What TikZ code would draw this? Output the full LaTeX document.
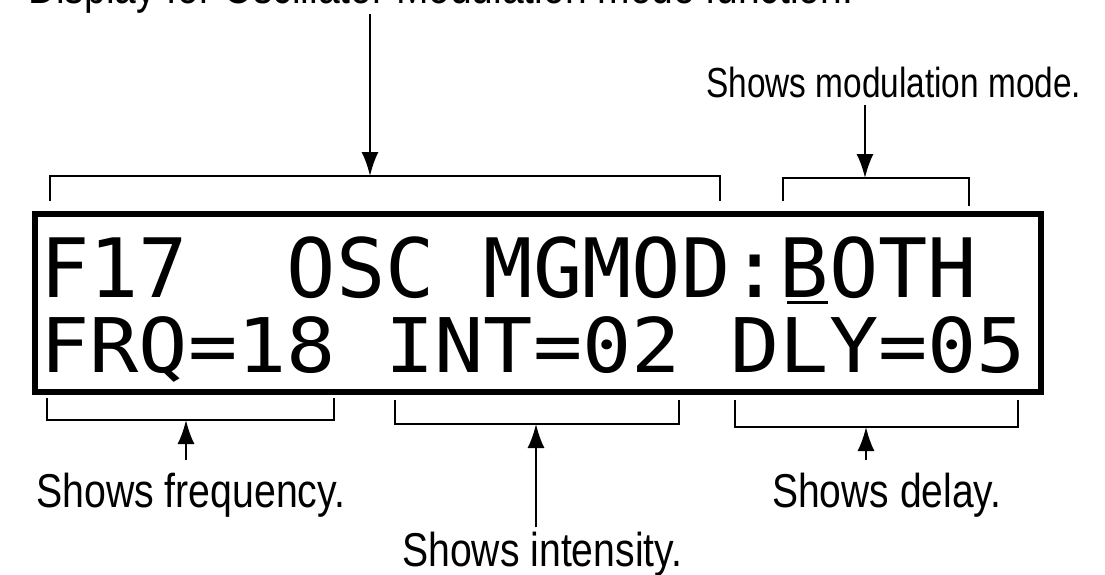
\documentclass[tikz,border=0pt]{standalone}
\usepackage{fontspec}
\usepackage{graphicx}
\setmainfont{Liberation Sans}
\newfontfamily\lcdfont{DejaVu Sans Mono}
\usetikzlibrary{arrows.meta}
\tikzset{
  lbl/.style={anchor=base west, inner sep=0pt, font=\fontsize{47.5}{50}\selectfont},
  lbls/.style={anchor=base west, inner sep=0pt, font=\fontsize{42}{46}\selectfont},
  lcd/.style={anchor=base west, inner sep=0pt, font=\lcdfont\fontsize{81.9}{90}\selectfont},
  brk/.style={line width=2pt},
  pointer/.style={line width=2pt, -{Latex[length=24pt,width=17pt]}},
  panel/.style={draw, line width=5.5pt},
}
\newcommand{\fitw}[2]{\resizebox{#1}{\height}{#2}}
\begin{document}
\begin{tikzpicture}[x=1pt,y=-1pt]
\useasboundingbox (0,0) rectangle (1105,575);
\clip (0,0) rectangle (1105,575);
% top (partly cut) caption
\node[lbl] (top) at (28,4) {\fitw{825pt}{Display for Oscillator Modulation mode function.}};
% display panel
\node[panel, minimum width=1006pt, minimum height=178pt, anchor=north west, inner sep=0pt] (panel) at (32,211) {};
\node[lcd] (row1) at (40,297) {F17\ \ OSC MGMOD:BOTH};
\node[lcd] (row2) at (40,372) {\scalebox{1}[0.92]{FRQ=18 INT=02 DLY=05}};
\draw[line width=3pt] (787,302) -- (828,302);
% labels
\node[lbls] (mod) at (706,98) {\fitw{375pt}{Shows modulation mode.}};
\node[lbl] (freq) at (36,507) {\fitw{309pt}{Shows frequency.}};
\node[lbl] (delay) at (772,507) {\fitw{229pt}{Shows delay.}};
\node[lbl] (inten) at (402,566) {\fitw{280pt}{Shows intensity.}};
% bracket tips
\coordinate (bA) at (370,176);
\coordinate (bB) at (865,178);
\coordinate (bC) at (186,420);
\coordinate (bD) at (536,424);
\coordinate (bE) at (866,427);
% brackets
\draw[brk] (50,201) -- (50,176) -- (720,176) -- (720,201);
\draw[brk] (783,201) -- (783,178) -- (969,178) -- (969,206);
\draw[brk] (47,398) -- (47,420) -- (334,420) -- (334,398);
\draw[brk] (395,400) -- (395,424) -- (679,424) -- (679,400);
\draw[brk] (735,400) -- (735,427) -- (1018,427) -- (1018,400);
% pointers
\draw[pointer] (top.south -| bA) -- (bA);
\draw[pointer] ([yshift=-6pt]mod.south -| bB) -- (bB);
\draw[pointer] ([yshift=12pt]freq.north -| bC) -- (bC);
\draw[pointer] ([yshift=4pt]inten.north -| bD) -- (bD);
\draw[pointer] ([yshift=12pt]delay.north -| bE) -- (bE);
\end{tikzpicture}
\end{document}
